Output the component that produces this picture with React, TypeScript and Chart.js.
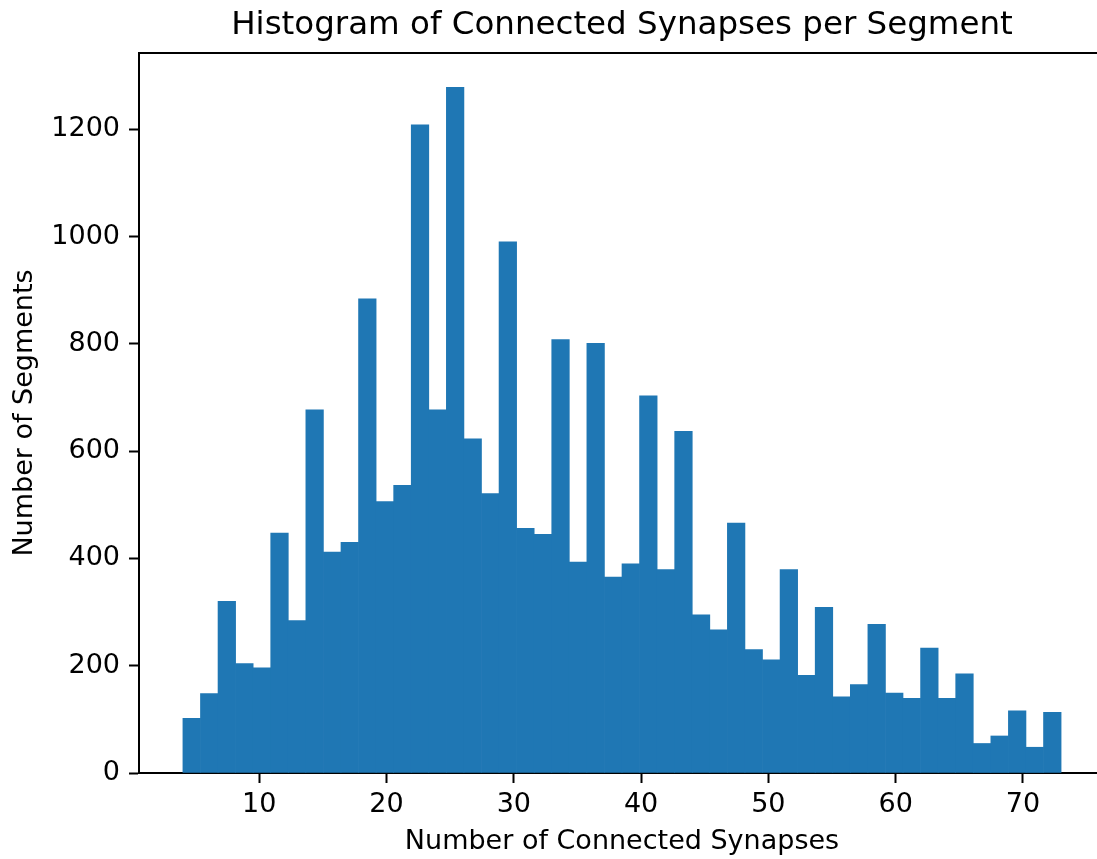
import React, { useEffect, useRef } from "react";
import { Chart, registerables } from "chart.js";

Chart.register(...registerables);

const TITLE = "Histogram of Connected Synapses per Segment";
const X_LABEL = "Number of Connected Synapses";
const Y_LABEL = "Number of Segments";

const BIN_START = 4;
const BIN_WIDTH = 1.38;
const COUNTS = [
  102, 148, 320, 204, 196, 447, 284, 677, 412, 430,
  884, 506, 536, 1208, 677, 1278, 623, 521, 990, 456,
  445, 808, 393, 801, 365, 390, 703, 379, 637, 295,
  267, 466, 230, 211, 379, 182, 309, 142, 165, 277,
  149, 139, 233, 139, 185, 55, 69, 116, 48, 113,
];
const X_TICKS = [10, 20, 30, 40, 50, 60, 70];
const Y_TICKS = [0, 200, 400, 600, 800, 1000, 1200];
const X_MIN = 0.55;
const X_MAX = 76.45;
const Y_MAX = 1342;

const FONT = "'DejaVu Sans', 'Liberation Sans', sans-serif";
const BAR_COLOR = "#1f77b4";

const frameAndTitle = {
  id: "frameAndTitle",
  afterDraw(chart: any) {
    const { ctx, chartArea } = chart;
    ctx.save();
    ctx.strokeStyle = "#000";
    ctx.lineWidth = 2;
    ctx.beginPath();
    ctx.moveTo(chartArea.left - 1, chartArea.top);
    ctx.lineTo(chartArea.right + 1, chartArea.top);
    ctx.stroke();
    ctx.fillStyle = "#000";
    ctx.font = `32.5px ${FONT}`;
    ctx.textAlign = "center";
    ctx.textBaseline = "alphabetic";
    ctx.fillText(TITLE, (chartArea.left + chartArea.right) / 2, 34);
    ctx.restore();
  },
};

export default function App() {
  const ref = useRef<HTMLCanvasElement>(null);
  useEffect(() => {
    if (!ref.current) return;
    const points = COUNTS.map((c, i) => ({
      x: BIN_START + BIN_WIDTH * (i + 0.5),
      y: c,
    }));
    const chart = new Chart(ref.current, {
      type: "bar",
      data: {
        datasets: [
          {
            data: points as any,
            backgroundColor: BAR_COLOR,
            borderWidth: 0,
            barPercentage: 1,
            categoryPercentage: 1,
          },
        ],
      },
      options: {
        animation: false,
        responsive: false,
        devicePixelRatio: 1,
        layout: { padding: { left: 0, top: 53, right: 15, bottom: 0 } },
        plugins: {
          legend: { display: false },
          tooltip: { enabled: false },
          title: { display: false },
        },
        scales: {
          x: {
            type: "linear",
            min: X_MIN,
            max: X_MAX,
            offset: false,
            afterBuildTicks: (s: any) => {
              s.ticks = X_TICKS.map((v) => ({ value: v }));
            },
            afterFit: (s: any) => {
              s.height = 86;
            },
            ticks: {
              color: "#000",
              font: { family: FONT, size: 27 },
              padding: 6,
              maxRotation: 0,
              autoSkip: false,
              callback: (v: any) => String(v),
            },
            grid: {
              display: true,
              drawOnChartArea: false,
              drawTicks: true,
              tickLength: 10,
              tickWidth: 2,
              tickColor: "#000",
              offset: false,
            },
            border: { display: true, color: "#000", width: 2 },
            title: {
              display: true,
              text: X_LABEL,
              color: "#000",
              font: { family: FONT, size: 27, lineHeight: 1.2 },
              padding: { top: 0, bottom: 1 },
            },
          },
          y: {
            type: "linear",
            min: 0,
            max: Y_MAX,
            afterBuildTicks: (s: any) => {
              s.ticks = Y_TICKS.map((v) => ({ value: v }));
            },
            afterFit: (s: any) => {
              s.width = 139;
            },
            ticks: {
              color: "#000",
              font: { family: FONT, size: 27 },
              padding: 9,
              autoSkip: false,
              callback: (v: any) => String(v),
            },
            grid: {
              display: true,
              drawOnChartArea: false,
              drawTicks: true,
              tickLength: 10,
              tickWidth: 2,
              tickColor: "#000",
            },
            border: { display: true, color: "#000", width: 2 },
            title: {
              display: true,
              text: Y_LABEL,
              color: "#000",
              font: { family: FONT, size: 27, lineHeight: 1.2 },
              padding: { top: 9, bottom: 0 },
            },
          },
        },
      },
      plugins: [frameAndTitle],
    });
    return () => chart.destroy();
  }, []);

  return (
    <div
      style={{
        position: "fixed",
        left: 0,
        top: 0,
        width: 1097,
        height: 859,
        overflow: "hidden",
        background: "#fff",
      }}
    >
      <canvas
        ref={ref}
        width={1120}
        height={859}
        style={{ width: 1120, height: 859, display: "block" }}
      />
    </div>
  );
}
